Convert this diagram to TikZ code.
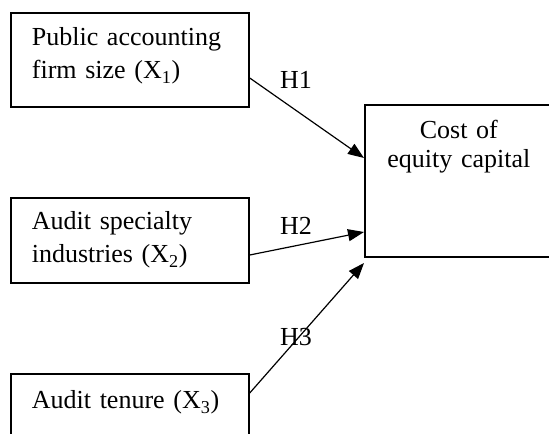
\documentclass[tikz,border=0pt]{standalone}
\usepackage{fontspec}
\setmainfont{Liberation Serif}
\usetikzlibrary{arrows.meta}
\usetikzlibrary{calc}
\tikzset{
  var box/.style = {draw, line width = 1.3pt, inner xsep = 15.75pt, inner ysep = 0pt,
    text width = 147pt, align = left, anchor = north west,
    font = \fontsize{19.5}{24.75}\selectfont},
  hyp arrow/.style = {line width = 0.9pt, -{Triangle[length = 12pt, width = 9pt]}},
  hyp label/.style = {inner sep = 0pt, font = \fontsize{19.5}{24}\selectfont}
}

\begin{document}
\begin{tikzpicture}[x = 0.75pt, y = -0.75pt]
      \useasboundingbox (0, 0) rectangle (549, 434);
      \clip (0, 0) rectangle (549, 434);
      % independent variables
      \node[var box, text height = 24.75pt, text depth = 45.75pt] (firm size) at (10, 12) {%
          Public accounting\\
          firm size (X\textsubscript{1})};
      \node[var box, text height = 24pt, text depth = 39.75pt] (specialty) at (10, 197) {%
          Audit specialty\\
          industries (X\textsubscript{2})};
      \node[var box, text height = 26.25pt, text depth = 40pt] (tenure) at (10, 373) {%
          Audit tenure (X\textsubscript{3})};
      % dependent variable
      \node[draw, line width = 1.3pt, inner sep = 0pt, text width = 141pt, align = center,
        anchor = north west, text height = 25.5pt, text depth = 88.5pt,
        font = \fontsize{19.5}{21.75}\selectfont] (cost) at (364, 104) {%
          Cost of\\
          equity capital};
      % hypotheses
      \draw[hyp arrow] ($(firm size.north east) + (0, 66)$) -- ($(cost.north west) + (0, 54)$);
      \draw[hyp arrow] ($(specialty.north east) + (0, 58)$) -- ($(cost.north west) + (0, 128)$);
      \draw[hyp arrow] ($(tenure.north east) + (0, 20)$) -- ($(cost.north west) + (0, 159)$);
      \node[hyp label] (h1) at (296, 80) {H1};
      \node[hyp label] (h2) at (296, 226) {H2};
      \node[hyp label] (h3) at (296, 337) {H3};
    \end{tikzpicture}
\end{document}
